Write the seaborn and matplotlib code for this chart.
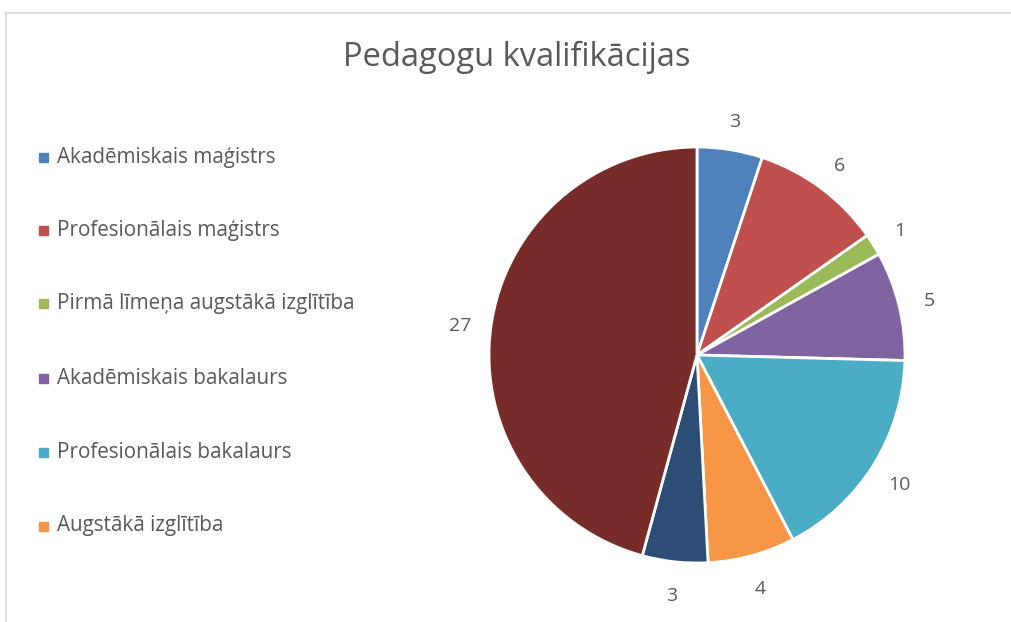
import matplotlib
matplotlib.use("Agg")
import matplotlib.pyplot as plt
import seaborn as sns
from matplotlib.lines import Line2D
from matplotlib.transforms import ScaledTranslation

categories = [
    "Akadēmiskais maģistrs",
    "Profesionālais maģistrs",
    "Pirmā līmeņa augstākā izglītība",
    "Akadēmiskais bakalaurs",
    "Profesionālais bakalaurs",
    "Augstākā izglītība",
    "Cits (7)",
    "Cits (8)",
]
values = [3, 6, 1, 5, 10, 4, 3, 27]
colors = ["#4F81BD", "#C0504D", "#9BBB59", "#8064A2", "#4BACC6", "#F79646", "#2C4D75", "#772C2A"]
legend_count = 6
title = "Pedagogu kvalifikācijas"

sns.set_theme(style="white")
plt.rcParams["font.family"] = ["Open Sans", "DejaVu Sans"]
text_color = "#595959"

W, H = 1011, 622
fig = plt.figure(figsize=(W / 100, H / 100), dpi=100)
fig.patch.set_facecolor("white")

# chart frame (partially visible)
fig.add_artist(Line2D([5.5 / W, 5.5 / W], [0, 1 - 12 / H], color="#d9d9d9", lw=1.2, transform=fig.transFigure))
fig.add_artist(Line2D([5 / W, 1], [1 - 12.5 / H, 1 - 12.5 / H], color="#d9d9d9", lw=1.2, transform=fig.transFigure))

cx, cy, r = 697, 355, 208
ax = fig.add_axes([(cx - r) / W, (H - cy - r) / H, 2 * r / W, 2 * r / H])
wedges, texts = ax.pie(
    values,
    colors=colors,
    startangle=90,
    counterclock=False,
    labels=[str(v) for v in values],
    labeldistance=1.15,
    wedgeprops=dict(edgecolor="white", linewidth=2),
    textprops=dict(color=text_color, fontsize=14),
)
offset = ScaledTranslation(0, -3 / 100, fig.dpi_scale_trans)
for t in texts:
    t.set_ha("center")
    t.set_va("center")
    t.set_transform(t.get_transform() + offset)
ax.set_xlim(-1, 1)
ax.set_ylim(-1, 1)
ax.set_aspect("equal")
ax.axis("off")

fig.text(517 / W, 1 - 57 / H, title, ha="center", va="center", fontsize=23.5, color=text_color)

# legend (only first entries visible)
ys = [157, 230, 303, 378, 452, 526]
for i in range(legend_count):
    y = 1 - ys[i] / H
    fig.add_artist(plt.Rectangle((39 / W, y - 4.5 / H), 9 / W, 9 / H, color=colors[i], transform=fig.transFigure))
    fig.text(57 / W, y, categories[i], ha="left", va="center", fontsize=14.9, color=text_color)

fig.savefig("out.png", dpi=100)
